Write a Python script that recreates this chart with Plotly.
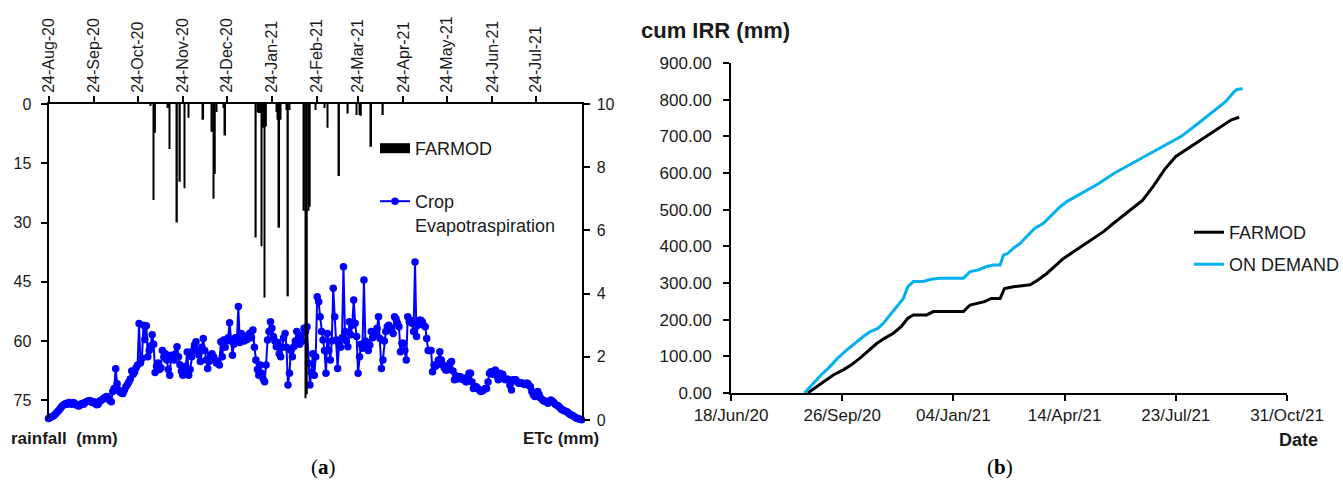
import plotly.graph_objects as go
import pandas as pd

# ---------------- Panel (a) data ----------------
etc_start = "2020-08-24"
etc_mm = [
    0.05, 0.07, 0.10, 0.12, 0.15, 0.20, 0.25, 0.30, 0.36, 0.42,
    0.47, 0.50, 0.52, 0.50, 0.55, 0.53, 0.50, 0.55, 0.52, 0.48,
    0.45, 0.44, 0.50, 0.52, 0.50, 0.55, 0.58, 0.60, 0.62, 0.60,
    0.55, 0.58, 0.52, 0.48, 0.50, 0.60, 0.62, 0.65, 0.70, 0.72,
    0.74, 0.68, 0.62, 0.58, 0.90, 1.00, 1.62, 1.15, 0.95, 0.88,
    0.85, 0.84, 0.95, 1.05, 1.12, 1.20, 1.30, 1.55, 1.45, 1.52,
    1.65, 1.74, 3.05, 1.80, 1.95, 3.00, 2.55, 2.98, 2.00, 2.20,
    2.35, 2.70, 2.40, 1.50, 1.70, 1.80, 1.60, 1.65, 2.20, 2.00,
    2.10, 1.90, 1.60, 1.42, 2.05, 1.95, 1.90, 2.10, 2.32, 2.00,
    1.75, 1.55, 1.42, 1.60, 1.70, 2.15, 1.42, 1.60, 2.00, 2.20,
    2.37, 2.48, 2.20, 2.06, 1.85, 2.30, 2.58, 2.20, 1.90, 1.63,
    1.85, 2.06, 2.10, 2.00, 1.90, 1.80, 1.85, 1.74, 2.48, 2.00,
    2.53, 2.30, 2.50, 2.60, 3.08, 2.50, 2.05, 2.40, 2.60, 2.50,
    3.59, 2.45, 2.74, 2.60, 2.50, 2.60, 2.55, 2.70, 2.75, 2.60,
    2.85, 2.30, 1.90, 1.60, 1.42, 1.74, 1.48, 1.30, 1.21, 1.74,
    2.53, 2.80, 3.11, 2.90, 2.64, 2.50, 2.32, 2.45, 2.10, 2.00,
    2.30, 2.60, 2.74, 2.30, 1.11, 1.48, 2.20, 2.00, 2.32, 2.50,
    2.80, 2.53, 2.40, 2.69, 2.50, 2.90, 2.80, 2.95, 1.79, 1.11,
    1.50, 2.10, 1.42, 2.00, 3.90, 3.74, 3.27, 2.80, 2.53, 2.20,
    1.48, 2.74, 2.20, 1.90, 2.50, 4.17, 3.27, 2.53, 1.63, 2.43,
    2.30, 2.60, 4.85, 2.80, 2.50, 2.32, 3.11, 2.70, 3.00, 3.80,
    3.06, 2.64, 1.48, 2.00, 2.40, 2.27, 4.43, 2.50, 2.32, 2.20,
    2.37, 2.80, 2.60, 2.80, 2.70, 2.90, 3.27, 2.58, 1.63, 1.90,
    2.50, 2.80, 2.95, 3.00, 2.85, 2.90, 2.74, 3.27, 3.20, 3.06,
    2.95, 2.16, 2.43, 2.43, 2.20, 1.90, 3.27, 3.10, 3.16, 3.06,
    2.80, 5.00, 2.64, 3.00, 3.16, 3.16, 3.10, 3.00, 2.95, 2.58,
    2.20, 2.20, 2.20, 1.53, 1.74, 1.70, 1.74, 1.90, 2.16, 1.90,
    1.75, 1.65, 1.58, 1.58, 1.70, 1.80, 1.85, 1.55, 1.27, 1.40,
    1.30, 1.37, 1.37, 1.30, 1.27, 1.32, 1.20, 1.35, 1.48, 1.48,
    1.20, 1.00, 1.05, 1.05, 1.00, 0.95, 0.90, 0.92, 0.95, 1.00,
    1.00, 1.20, 1.48, 1.53, 1.45, 1.50, 1.58, 1.40, 1.27, 1.48,
    1.40, 1.45, 1.30, 1.27, 1.30, 1.27, 1.10, 0.95, 1.27, 1.25,
    1.27, 1.20, 1.16, 1.16, 1.18, 1.15, 1.12, 1.16, 1.16, 1.10,
    1.05, 0.90, 0.80, 0.74, 0.84, 0.90, 0.80, 0.70, 0.65, 0.60,
    0.60, 0.58, 0.53, 0.58, 0.63, 0.60, 0.55, 0.50, 0.47, 0.45,
    0.40, 0.35, 0.32, 0.30, 0.28, 0.26, 0.22, 0.18, 0.16, 0.14,
    0.10, 0.08, 0.05, 0.04, 0.02, 0.01,
]
etc_dates = pd.date_range(etc_start, periods=len(etc_mm), freq="D")

rain_dates = [
    "2020-11-02", "2020-11-04", "2020-11-05", "2020-11-14", "2020-11-15",
    "2020-11-20", "2020-11-22", "2020-11-25", "2020-11-28", "2020-12-08",
    "2020-12-14", "2020-12-15", "2020-12-16", "2020-12-17", "2020-12-22",
    "2020-12-23", "2021-01-13", "2021-01-14", "2021-01-15", "2021-01-16",
    "2021-01-17", "2021-01-18", "2021-01-19", "2021-01-20", "2021-01-27",
    "2021-01-28", "2021-01-29", "2021-01-30", "2021-02-03", "2021-02-04",
    "2021-02-05", "2021-02-15", "2021-02-16", "2021-02-17", "2021-02-18",
    "2021-02-19", "2021-02-23", "2021-03-01", "2021-03-03", "2021-03-11",
    "2021-03-17", "2021-03-23", "2021-03-25", "2021-03-26", "2021-04-02",
    "2021-04-10",
]
rain_mm = [
    0.5, 24.3, 7.3, 1.0, 11.4,
    30.0, 19.7, 21.3, 3.5, 4.0,
    7.0, 24.0, 17.7, 2.0, 1.0,
    8.0, 33.8, 2.0, 2.3, 2.3,
    36.0, 6.0, 49.0, 5.7, 2.0,
    4.0, 31.3, 4.0, 1.5, 48.7,
    1.5, 27.0, 74.5, 73.5, 27.0,
    26.0, 1.5, 1.0, 6.0, 18.2,
    2.4, 2.8, 2.8, 3.0, 10.8,
    2.8,
]

top_tick_dates = [
    "2020-08-24", "2020-09-24", "2020-10-24", "2020-11-24", "2020-12-24",
    "2021-01-24", "2021-02-24", "2021-03-24", "2021-04-24", "2021-05-24",
    "2021-06-24", "2021-07-24",
]
rain_ticks = [0, 15, 30, 45, 60, 75]
etc_ticks = [0, 2, 4, 6, 8, 10]

# ---------------- Panel (b) data ----------------
farmod_dates = [
    "2020-08-26", "2020-09-01", "2020-09-09", "2020-09-18", "2020-09-27",
    "2020-10-04", "2020-10-12", "2020-10-19", "2020-10-27", "2020-11-03",
    "2020-11-11", "2020-11-18", "2020-11-24", "2020-11-29", "2020-12-11",
    "2020-12-17", "2021-01-13", "2021-01-19", "2021-01-26", "2021-02-01",
    "2021-02-07", "2021-02-15", "2021-02-19", "2021-02-27", "2021-03-14",
    "2021-03-21", "2021-03-29", "2021-04-05", "2021-04-13", "2021-04-22",
    "2021-05-01", "2021-05-10", "2021-05-19", "2021-05-28", "2021-06-06",
    "2021-06-15", "2021-06-23", "2021-07-03", "2021-07-13", "2021-07-23",
    "2021-08-02", "2021-08-12", "2021-08-22", "2021-09-01", "2021-09-11",
    "2021-09-18",
]
farmod_cum = [
    0, 13, 31, 49, 63,
    76, 95, 113, 135, 149,
    163, 181, 204, 213, 213,
    222, 222, 240, 245, 249,
    258, 258, 285, 290, 295,
    308, 326, 345, 367, 385,
    404, 422, 440, 463, 485,
    508, 525, 565, 610, 645,
    665, 685, 705, 725, 745,
    752,
]
ondemand_dates = [
    "2020-08-23", "2020-08-31", "2020-09-07", "2020-09-15", "2020-09-22",
    "2020-09-30", "2020-10-07", "2020-10-15", "2020-10-21", "2020-10-28",
    "2020-11-02", "2020-11-08", "2020-11-14", "2020-11-20", "2020-11-24",
    "2020-11-29", "2020-12-08", "2020-12-15", "2020-12-23", "2021-01-13",
    "2021-01-19", "2021-01-26", "2021-02-03", "2021-02-09", "2021-02-15",
    "2021-02-18", "2021-02-22", "2021-02-27", "2021-03-05", "2021-03-12",
    "2021-03-18", "2021-03-26", "2021-04-02", "2021-04-10", "2021-04-16",
    "2021-04-29", "2021-05-14", "2021-05-29", "2021-06-13", "2021-06-28",
    "2021-07-13", "2021-07-28", "2021-08-12", "2021-08-27", "2021-09-06",
    "2021-09-13", "2021-09-16", "2021-09-21",
]
ondemand_cum = [
    0, 26, 49, 72, 95,
    117, 135, 154, 167, 176,
    190, 213, 235, 258, 290,
    304, 304, 310, 313, 313,
    331, 335, 345, 349, 349,
    376, 381, 395, 408, 431,
    449, 463, 485, 508, 522,
    545, 570, 600, 625, 650,
    675, 700, 735, 770, 795,
    820, 828, 830,
]
cum_tick_dates = ["2020-06-18", "2020-09-26", "2021-01-04",
                  "2021-04-14", "2021-07-23", "2021-10-31"]
cum_ticks = [0, 100, 200, 300, 400, 500, 600, 700, 800, 900]

# ---------------- Figure ----------------
W, H = 1343, 486
FONT = "Liberation Sans, Arial, sans-serif"
TXT = "#1a1a1a"

def px_x(p):
    return p / W

def px_y(p):
    return 1 - p / H

fig = go.Figure()

fig.add_trace(go.Scatter(
    x=etc_dates, y=etc_mm, xaxis="x", yaxis="y",
    mode="lines+markers", name="Crop<br>Evapotraspiration",
    line=dict(color="#0000FF", width=2),
    marker=dict(color="#0000FF", size=7.5),
    cliponaxis=False, legend="legend2",
))
fig.add_trace(go.Bar(
    x=rain_dates, y=rain_mm, xaxis="x", yaxis="y2",
    marker=dict(color="black", line=dict(width=0)),
    width=86400000 * 1.1, showlegend=False, name="FARMOD",
))
fig.add_trace(go.Scatter(
    x=[None], y=[None], xaxis="x", yaxis="y2", mode="lines",
    line=dict(color="black", width=10), name="FARMOD", legend="legend",
))

fig.add_trace(go.Scatter(
    x=farmod_dates, y=farmod_cum, xaxis="x2", yaxis="y3", mode="lines",
    line=dict(color="black", width=3), name="FARMOD", legend="legend3",
))
fig.add_trace(go.Scatter(
    x=ondemand_dates, y=ondemand_cum, xaxis="x2", yaxis="y3", mode="lines",
    line=dict(color="#00B0F0", width=3), name="ON DEMAND", legend="legend4",
))

def axis_common(size):
    return dict(showline=True, linecolor="black", linewidth=2,
                showgrid=False, zeroline=False, ticks="outside",
                ticklen=6, tickwidth=2, tickcolor="black", automargin=False,
                tickfont=dict(family=FONT, size=size, color=TXT))

left_dom_x = [px_x(48.5), px_x(581.5)]
left_dom_y = [px_y(420), px_y(104)]
right_dom_x = [px_x(731), px_x(1287)]
right_dom_y = [px_y(393), px_y(63)]

legend_font = dict(family=FONT, size=18, color=TXT)

fig.update_layout(
    template="none",
    width=W, height=H, autosize=False,
    margin=dict(l=0, r=0, t=0, b=0, autoexpand=False),
    paper_bgcolor="white", plot_bgcolor="rgba(0,0,0,0)",
    font=dict(family=FONT, color=TXT),
    xaxis=dict(**axis_common(16), type="date", side="top", anchor="y",
               domain=left_dom_x, range=["2020-08-24", "2021-08-24"],
               tickvals=top_tick_dates, tickformat="%d-%b-%y",
               tickangle=-90),
    yaxis=dict(**axis_common(16), side="right", anchor="x",
               domain=left_dom_y, range=[0, 10], tickvals=etc_ticks,
               ticklabelstandoff=4),
    yaxis2=dict(**axis_common(16), side="left", overlaying="y", anchor="x",
                range=[80, 0], tickvals=rain_ticks, ticklabelstandoff=6),
    xaxis2=dict(**axis_common(17), type="date", anchor="y3", domain=right_dom_x,
                range=["2020-06-18", "2021-10-31"], tickvals=cum_tick_dates,
                tickformat="%d/%b/%y"),
    yaxis3=dict(**axis_common(17), anchor="x2", domain=right_dom_y, range=[0, 900],
                tickvals=cum_ticks, tickformat=".2f", ticklabelstandoff=8),
    legend=dict(x=px_x(375), y=px_y(130), xanchor="left", yanchor="top",
                bgcolor="rgba(0,0,0,0)", font=legend_font),
    legend2=dict(x=px_x(375), y=px_y(183), xanchor="left", yanchor="top",
                 valign="top", bgcolor="rgba(0,0,0,0)", font=legend_font),
    legend3=dict(x=px_x(1189), y=px_y(214), xanchor="left", yanchor="top",
                 bgcolor="rgba(0,0,0,0)", font=legend_font),
    legend4=dict(x=px_x(1189), y=px_y(246), xanchor="left", yanchor="top",
                 bgcolor="rgba(0,0,0,0)", font=legend_font),
)

ann = [
    dict(text="<b>cum IRR (mm)</b>", x=px_x(639), y=px_y(30), xanchor="left",
         yanchor="middle", font=dict(family=FONT, size=22, color=TXT)),
    dict(text="<b>Date</b>", x=px_x(1298), y=px_y(440), xanchor="center",
         yanchor="middle", font=dict(family=FONT, size=18, color=TXT)),
    dict(text="<b>rainfall\u00a0 (mm)</b>", x=px_x(9), y=px_y(438), xanchor="left",
         yanchor="middle", font=dict(family=FONT, size=17, color=TXT)),
    dict(text="<b>ETc (mm)</b>", x=px_x(521), y=px_y(438), xanchor="left",
         yanchor="middle", font=dict(family=FONT, size=17, color=TXT)),
    dict(text="(<b>a</b>)", x=px_x(323), y=px_y(467), xanchor="center",
         yanchor="middle", font=dict(family="Liberation Serif, Times New Roman, serif",
                                     size=21, color="black")),
    dict(text="(<b>b</b>)", x=px_x(1000), y=px_y(467), xanchor="center",
         yanchor="middle", font=dict(family="Liberation Serif, Times New Roman, serif",
                                     size=21, color="black")),
]
for a in ann:
    fig.add_annotation(xref="paper", yref="paper", showarrow=False, **a)

fig.write_html("out.html")
